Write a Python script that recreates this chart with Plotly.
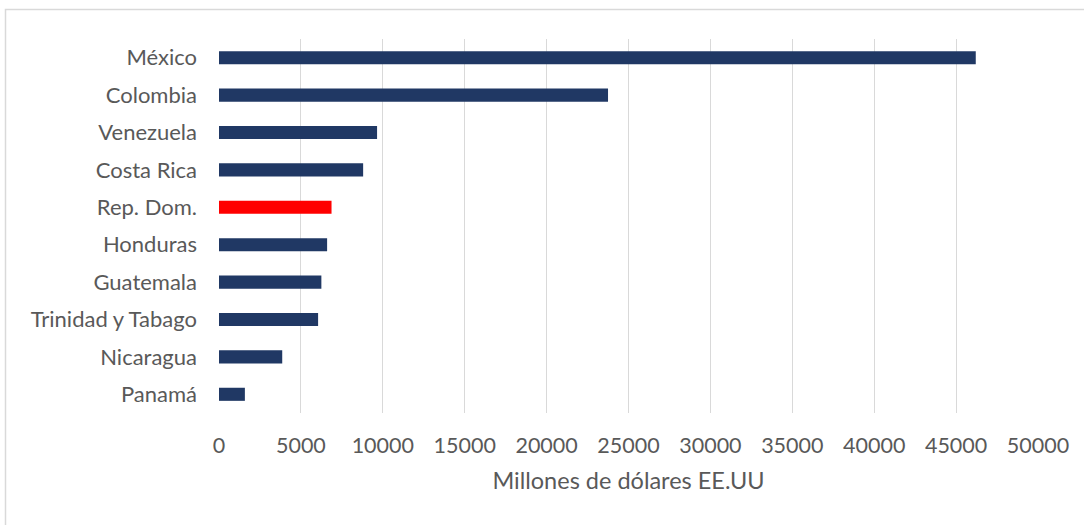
import plotly.graph_objects as go

# Countries, top to bottom
paises = ["México", "Colombia", "Venezuela", "Costa Rica", "Rep. Dom.",
          "Honduras", "Guatemala", "Trinidad y Tabago", "Nicaragua", "Panamá"]
# Millones de dólares EE.UU
valores = [46200, 23750, 9650, 8800, 6870, 6600, 6250, 6050, 3860, 1580]
destacado = "Rep. Dom."

x_ticks = [0, 5000, 10000, 15000, 20000, 25000, 30000, 35000, 40000, 45000, 50000]

AZUL = "#203864"
ROJO = "#ff0000"
GRIS_TEXTO = "#595959"
GRIS_REJILLA = "#d9d9d9"
FUENTE = "Lato"

colores = [ROJO if p == destacado else AZUL for p in paises]

fig = go.Figure(
    go.Bar(
        x=valores,
        y=paises,
        orientation="h",
        marker=dict(color=colores, line=dict(width=0)),
        width=0.35,
        hoverinfo="x+y",
    )
)

W, H = 1084, 525
L, R, T, B = 219, 46, 39, 112
pw, ph = W - L - R, H - T - B

def px_to_paper_x(px):
    return (px - L) / pw

def px_to_paper_y(py):
    return (H - B - py) / ph

# Outer chart frame (only left and top edges fall inside the canvas)
fig.add_shape(
    type="rect", xref="paper", yref="paper", layer="below",
    x0=px_to_paper_x(5.5), x1=px_to_paper_x(W + 10),
    y0=px_to_paper_y(H + 10), y1=px_to_paper_y(9.5),
    line=dict(color="#d9d9d9", width=1.5), fillcolor="rgba(0,0,0,0)",
)

fig.update_layout(
    width=W, height=H,
    margin=dict(l=L, r=R, t=T, b=B, pad=0),
    paper_bgcolor="white",
    plot_bgcolor="white",
    showlegend=False,
    font=dict(family=FUENTE, size=21, color=GRIS_TEXTO),
    xaxis=dict(
        range=[0, 50000],
        tickvals=x_ticks,
        ticktext=[str(v) for v in x_ticks],
        showgrid=True, gridcolor=GRIS_REJILLA, gridwidth=1.3,
        zeroline=False, showline=False,
        ticks="", ticklabelstandoff=17,
        tickfont=dict(family=FUENTE, size=21.5, color=GRIS_TEXTO),
        title=dict(text="Millones de dólares EE.UU", standoff=16,
                   font=dict(family=FUENTE, size=23.5, color=GRIS_TEXTO)),
        fixedrange=True,
    ),
    yaxis=dict(
        categoryorder="array", categoryarray=paises,
        autorange="reversed",
        showgrid=False, zeroline=False, showline=False,
        ticks="", ticklabelstandoff=21,
        tickfont=dict(family=FUENTE, size=22, color=GRIS_TEXTO),
        fixedrange=True,
    ),
)

fig.write_html("out.html")
